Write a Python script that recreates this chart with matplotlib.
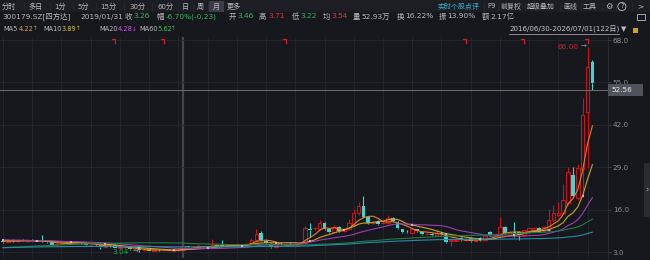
import numpy as np
import pandas as pd
import matplotlib
matplotlib.use('Agg')
import matplotlib.pyplot as plt
from matplotlib.patches import Rectangle

plt.rcParams['font.family'] = ['DejaVu Sans', 'Noto Sans CJK SC']

W, H = 650, 260
BG = '#16181d'
UP = '#c4161c'
DOWN = '#3fd5d2'
GRID = '#25282e'
TXT = '#b9bbbf'
GREEN = '#35b85a'
RED = '#e23a3a'

# monthly candles 2016/06 .. 2026/07
opens = [6.4, 6.1, 6.5, 6.4, 6.6, 6.5, 6.6, 6.4, 6.6, 6.3,
         6.1, 5.2, 5.5, 5.7, 5.6, 6.2, 6.0, 5.8, 5.0, 5.2,
         5.1, 4.6, 4.8, 5.3, 4.3, 4.5, 4.4, 3.8, 3.9, 3.5,
         3.8, 3.4, 3.7, 3.5, 3.6, 3.4, 3.5, 3.6, 4.8, 4.4,
         4.5, 4.7, 4.6, 4.8, 5.0, 5.0, 4.8, 5.0, 5.2, 5.1,
         5.3, 5.5, 6.7, 8.8, 6.4, 5.5, 4.5, 5.2, 5.0, 5.6,
         5.3, 5.6, 5.8, 10.0, 10.3, 10.0, 11.9, 10.0, 9.1, 10.7,
         9.4, 10.0, 11.3, 15.0, 17.1, 13.7, 11.9, 12.3, 11.8, 11.9,
         13.4, 12.2, 10.0, 9.2, 8.8, 10.0, 9.1, 8.5, 8.6, 8.2,
         8.8, 8.2, 6.4, 6.5, 7.3, 6.6, 7.3, 6.3, 7.3, 6.6,
         9.0, 8.2, 8.2, 10.7, 8.2, 9.1, 9.1, 8.2, 9.1, 9.8,
         10.4, 9.4, 9.7, 12.8, 14.4, 15.0, 18.0, 26.6, 19.6, 28.5,
         45.9, 61.3]
highs = [6.6, 6.8, 6.9, 6.8, 7.0, 6.9, 6.9, 6.7, 8.2, 6.6,
         6.3, 5.7, 5.9, 6.0, 6.4, 6.5, 6.2, 5.9, 5.4, 5.5,
         5.4, 5.0, 5.1, 5.5, 4.7, 4.8, 4.5, 4.1, 4.0, 4.0,
         4.0, 3.9, 3.9, 3.8, 3.8, 3.7, 3.8, 5.0, 4.9, 4.7,
         5.4, 4.9, 4.9, 7.0, 5.3, 6.7, 5.2, 5.4, 5.5, 5.6,
         5.8, 7.3, 10.0, 9.4, 6.8, 5.8, 5.3, 6.0, 5.6, 6.1,
         5.8, 6.2, 11.0, 11.9, 10.8, 12.8, 12.2, 10.3, 11.3, 10.9,
         10.3, 13.0, 16.2, 18.3, 20.2, 14.0, 12.6, 12.7, 12.3, 14.2,
         13.8, 12.5, 10.2, 9.6, 10.4, 10.2, 9.3, 8.9, 8.8, 10.0,
         9.0, 8.4, 6.9, 7.0, 7.6, 7.3, 7.6, 7.0, 7.5, 8.0,
         9.3, 8.5, 13.7, 11.0, 9.3, 12.2, 9.3, 9.9, 10.5, 10.7,
         10.8, 10.9, 16.2, 17.4, 18.3, 24.0, 29.0, 29.1, 30.0, 50.2,
         66.0, 62.0]
lows = [5.9, 6.0, 6.2, 6.1, 6.3, 6.2, 6.3, 6.0, 6.1, 5.8,
        5.0, 5.0, 5.2, 5.4, 5.4, 5.8, 5.5, 4.9, 4.8, 4.9,
        4.0, 4.4, 4.5, 4.1, 4.1, 4.2, 3.6, 3.5, 3.04, 3.3,
        3.3, 3.2, 3.4, 3.2, 3.3, 3.2, 3.3, 3.5, 4.3, 4.2,
        4.3, 4.4, 4.4, 4.6, 4.7, 4.7, 4.6, 4.8, 4.9, 4.9,
        5.1, 5.4, 6.5, 6.5, 5.6, 4.3, 4.3, 4.8, 4.9, 5.0,
        5.1, 5.4, 5.6, 7.6, 9.8, 9.6, 9.8, 8.8, 8.9, 9.1,
        9.2, 9.8, 11.0, 14.5, 13.4, 11.6, 11.5, 11.4, 11.5, 11.7,
        12.3, 10.2, 8.9, 8.8, 8.6, 9.2, 8.3, 8.3, 8.0, 8.1,
        8.2, 5.9, 4.8, 6.3, 6.3, 6.4, 6.0, 6.1, 6.3, 6.4,
        7.9, 7.9, 8.0, 8.6, 8.0, 7.6, 6.6, 8.0, 8.9, 9.6,
        9.0, 9.2, 9.5, 12.5, 13.7, 14.6, 17.5, 19.8, 19.0, 19.9,
        28.8, 52.6]
closes = [6.1, 6.5, 6.4, 6.6, 6.5, 6.6, 6.4, 6.2, 6.3, 6.0,
          5.2, 5.5, 5.7, 5.6, 6.2, 6.0, 5.7, 5.0, 5.2, 5.1,
          4.6, 4.8, 4.7, 4.3, 4.5, 4.4, 3.8, 3.9, 3.5, 3.8,
          3.4, 3.7, 3.5, 3.6, 3.4, 3.5, 3.6, 4.8, 4.4, 4.5,
          4.7, 4.6, 4.8, 5.0, 4.9, 4.8, 5.0, 5.2, 5.1, 5.3,
          5.5, 6.7, 8.5, 6.7, 5.8, 4.5, 5.0, 5.0, 5.4, 5.3,
          5.6, 5.8, 10.4, 9.7, 10.4, 11.9, 10.0, 9.1, 10.7, 9.4,
          10.0, 11.9, 15.0, 17.1, 13.7, 11.9, 12.2, 11.6, 11.9, 13.4,
          12.5, 10.4, 9.1, 9.1, 10.0, 9.4, 8.5, 8.6, 8.2, 8.8,
          8.4, 6.1, 6.5, 6.8, 6.6, 7.0, 6.3, 6.8, 6.6, 7.8,
          8.2, 8.3, 10.7, 8.8, 9.1, 8.9, 8.2, 9.7, 10.4, 10.4,
          9.1, 10.7, 12.8, 15.0, 15.0, 19.0, 27.5, 20.2, 28.8, 45.0,
          59.7, 54.8]
# earlier monthly closes, only feed the moving averages
pre_closes = [2.6, 2.4, 2.3, 2.2, 2.2, 2.1, 2.0, 2.1, 2.0, 1.9,
              1.9, 2.0, 2.1, 2.1, 2.0, 1.9, 2.0, 2.2, 2.4, 2.5,
              2.3, 2.6, 2.8, 2.7, 2.5, 2.4, 2.6, 2.8, 2.7, 2.9,
              3.6, 3.4, 3.7, 3.9, 4.2, 4.6, 5.4, 6.8, 8.6, 9.8,
              6.4, 6.9, 7.2, 6.8, 7.0, 7.6, 7.9, 6.4, 6.0, 6.5,
              6.3, 6.9, 7.1, 6.8, 6.5, 6.6, 6.7, 6.3, 6.5, 6.2]

ma_periods = [5, 10, 20, 60, 120]
ma_colors = ['#e5801f', '#c6a52b', '#9a3db5', '#1d7d44', '#2b8aa3']
ma_names = ['MA5', 'MA10', 'MA20', 'MA60']
ma_values = ['4.22', '3.89', '4.28', '5.62']
ma_arrows = ['↑', '↑', '↓', '↑']
ma_text_colors = ['#f0a030', '#d8c040', '#c65ee0', '#3fbf5f']

price_ticks = [3.0, 16.0, 29.0, 42.0, 55.0, 68.0]
event_idx = [23, 33, 58, 95, 107, 120]
cross_idx = 37
cross_price = 52.56

o = np.array(opens)
h = np.array(highs)
l = np.array(lows)
c = np.array(closes)
n = len(c)
x = np.arange(n)
full = pd.Series(pre_closes + closes)
mas = [full.rolling(p, min_periods=1).mean().to_numpy()[-n:] for p in ma_periods]

fig = plt.figure(figsize=(6.5, 2.6), dpi=100, facecolor=BG)
ax = fig.add_axes([0, 2 / H, 608 / W, 221 / H])
ax.set_facecolor(BG)
ax.set_xlim(-0.62, 124.2)
ax.set_ylim(1.16, 68.95)

# grid
for i in range(0, n, 6):
    ax.axvline(i, color=GRID, lw=0.6, zorder=0)
ax.set_yticks(price_ticks)
ax.set_yticklabels([f'{v:.1f}' for v in price_ticks])
ax.grid(axis='y', color=GRID, lw=0.6, zorder=0)
ax.yaxis.tick_right()
ax.tick_params(axis='y', length=2, color='#3a3d44', labelcolor='#8d9096',
               labelsize=5.2, pad=1.5)
ax.set_xticks([])
for s in ['top', 'left', 'bottom']:
    ax.spines[s].set_visible(False)
ax.spines['right'].set_color('#2b2e34')
ax.spines['right'].set_linewidth(0.6)

# crosshair
ax.axvline(cross_idx, color='#42454c', lw=1.6, zorder=1)
ax.axhline(cross_price, color='#6b6e75', lw=0.7, zorder=6)

# candles
up = c >= o
top = np.maximum(o, c)
bot = np.minimum(o, c)
body = np.maximum(top - bot, 0.15)
cols = np.where(up, UP, DOWN)
ax.vlines(x, top, h, colors=cols, lw=0.8, zorder=3)
ax.vlines(x, l, bot, colors=cols, lw=0.8, zorder=3)
ax.bar(x[up], body[up], bottom=bot[up], width=0.72, facecolor=BG,
       edgecolor=UP, lw=0.8, zorder=3)
ax.bar(x[~up], body[~up], bottom=bot[~up], width=0.78, color=DOWN,
       lw=0, zorder=3)

# moving averages
for ma, col in zip(mas, ma_colors):
    ax.plot(x, ma, color=col, lw=0.8, zorder=4)
ax.scatter(x[::7], mas[1][::7], marker='s', s=4, color='#bfb0dc',
           linewidths=0, zorder=5)

# event flags along the top
tr = ax.get_xaxis_transform()
for e in event_idx:
    ax.plot([e - 0.6, e, e], [0.993, 0.993, 0.975], color='#d42020',
            lw=0.9, transform=tr, clip_on=False, zorder=6)

# high / low labels
imax = int(np.argmax(h))
imin = int(np.argmin(l))
ax.annotate('→', xy=(imax, h[imax]), xytext=(-1, 0), textcoords='offset points',
            ha='right', va='center', color='#9a9ca2', fontsize=5)
ax.annotate(f'{h[imax]:.2f}', xy=(imax, h[imax]), xytext=(-6.5, 0),
            textcoords='offset points', ha='right', va='center',
            color='#c8282d', fontsize=5.3)
ax.annotate('→', xy=(imin, l[imin]), xytext=(-1, 0), textcoords='offset points',
            ha='right', va='center', color='#9a9ca2', fontsize=5)
ax.annotate(f'{l[imin]:.2f}', xy=(imin, l[imin]), xytext=(-7.5, 0),
            textcoords='offset points', ha='right', va='center',
            color='#2a9d57', fontsize=5.3)

# price tag on the crosshair
yd = ax.transData.transform((0, cross_price))[1]
yf = fig.transFigure.inverted().transform((0, yd))[1]
fig.patches.append(Rectangle((608 / W, yf - 6 / H), 35 / W, 12 / H,
                             transform=fig.transFigure, fc='#50535b', ec='none'))
fig.text(611 / W, yf, f'{cross_price:.2f}', color='#ececec', fontsize=5.2,
         va='center', ha='left')


def ftext(px, py, s, color=TXT, size=5.3, **kw):
    fig.text(px / W, 1 - py / H, s, color=color, fontsize=size,
             va='center', ha='left', **kw)


def sep(px, color='#2a2d33'):
    fig.lines.append(plt.Line2D([px / W, px / W], [1 - 10 / H, 1 - 3 / H],
                                transform=fig.transFigure, color=color, lw=0.5))


# toolbar
fig.patches.append(Rectangle((0, 1 - 12 / H), 1, 12 / H, transform=fig.transFigure,
                             fc='#1c1e23', ec='none'))
fig.patches.append(Rectangle((209 / W, 1 - 12 / H), 15 / W, 11 / H,
                             transform=fig.transFigure, fc='#3b3e46', ec='none'))
tools_left = [('分时', 2), ('多日', 28), ('1分', 54), ('5分', 77), ('15分', 100),
              ('30分', 129), ('60分', 157), ('日', 182), ('周', 197), ('月', 213),
              ('更多', 227)]
for s, px in tools_left:
    ftext(px, 6.5, s, size=5.1)
for px in [24, 50, 73, 96, 124, 152, 178, 193, 208]:
    sep(px)
ftext(437, 6.5, '实时个股点评', color='#3bb0c9', size=5.0)
tools_right = [('F9', 487), ('前复权', 501), ('超级叠加', 527), ('画线', 563),
               ('工具', 583)]
for s, px in tools_right:
    ftext(px, 6.5, s, size=5.0)
ftext(605, 6.5, '⚙', color=TXT, size=6)
ftext(620, 6.5, '?', color=TXT, size=5,
      bbox=dict(boxstyle='circle,pad=0.15', fc='none', ec=TXT, lw=0.6))
ftext(637, 6.5, '>', color=TXT, size=5.4)
for px in [484, 498, 525, 560, 580.5, 602, 616, 632]:
    sep(px)

# quote line
quote = [('300179.SZ[四方达]', 2, TXT), ('2019/01/31', 80, TXT), ('收', 125, TXT),
         ('3.26', 133.5, GREEN), ('幅', 157, TXT), ('-6.70%(-0.23)', 165.5, GREEN),
         ('开', 229, TXT), ('3.46', 237.5, GREEN), ('高', 259, TXT),
         ('3.71', 268, RED), ('低', 292, TXT), ('3.22', 300.5, GREEN),
         ('均', 323, TXT), ('3.54', 331.5, RED), ('量', 353, TXT),
         ('52.93万', 361.5, TXT), ('换', 397, TXT), ('16.22%', 405.5, TXT),
         ('振', 439, TXT), ('13.90%', 447.5, TXT), ('额', 482, TXT),
         ('2.17亿', 490.5, TXT)]
for s, px, col in quote:
    ftext(px, 16.5, s, color=col, size=5.3)
fig.patches.append(Rectangle((637 / W, 1 - 20 / H), 8 / W, 6 / H,
                             transform=fig.transFigure, fc='none', ec=TXT, lw=0.6))

# MA legend
ma_x = [(3, 19), (43, 62), (99, 118), (139, 157)]
for name, val, arr, col, (px1, px2) in zip(ma_names, ma_values, ma_arrows,
                                           ma_text_colors, ma_x):
    ftext(px1, 29, name, size=4.8)
    ftext(px2, 29, val, color=col, size=4.8)
    ftext(px2 + 13.5, 29, arr, color=col, size=4.0)
ftext(509, 29, '2016/06/30-2026/07/01(122日)', color='#c8cacd', size=5.1)
fig.lines.append(plt.Line2D([509 / W, 619 / W], [1 - 33.5 / H, 1 - 33.5 / H],
                            transform=fig.transFigure, color='#9a9ca0', lw=0.6))
ftext(621, 29, '▼', color=TXT, size=5)
fig.patches.append(Rectangle((633 / W, 1 - 33 / H), 5 / W, 5 / H,
                             transform=fig.transFigure, fc='#d4a017', ec='none'))

# side tab
fig.patches.append(Rectangle((644 / W, 1 - 217 / H), 6 / W, 54 / H,
                             transform=fig.transFigure, fc='#2a2c31', ec='none'))
ftext(645, 190, '›', color=TXT, size=6)

fig.savefig('out.png', dpi=100, facecolor=BG)
